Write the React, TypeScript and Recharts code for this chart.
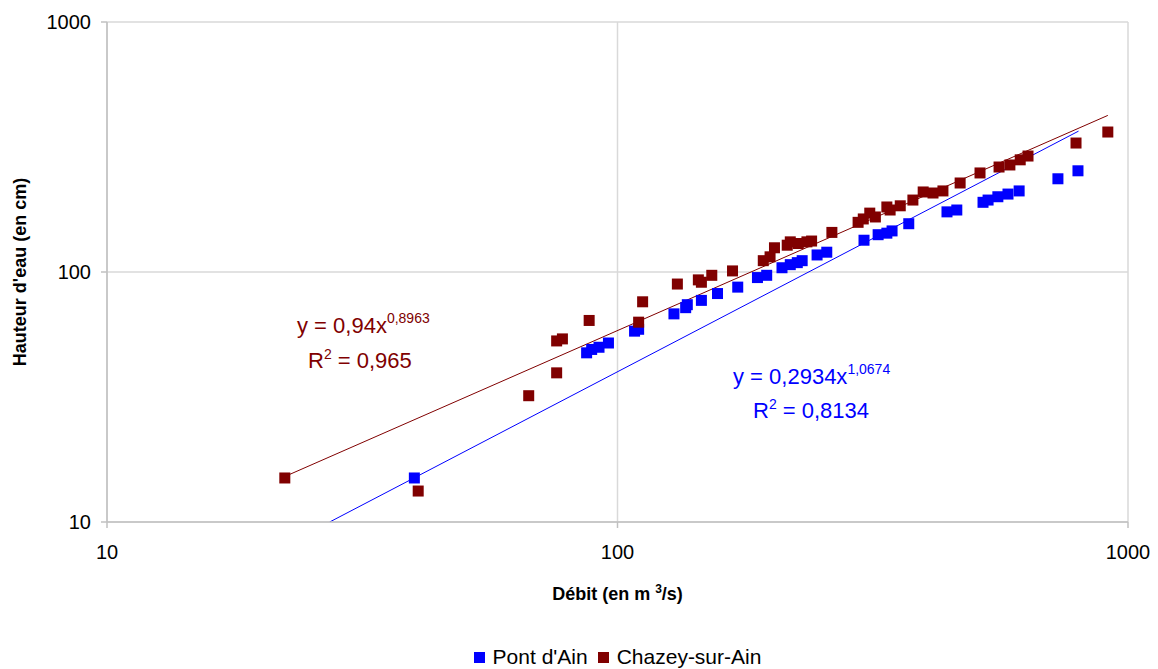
import React from 'react';
import {
  ComposedChart,
  Scatter,
  Line,
  XAxis,
  YAxis,
  CartesianGrid,
} from 'recharts';

const BLUE = '#0000ff';
const BROWN = '#800000';
const FONT = '"Liberation Sans", Arial, sans-serif';

// Pont d'Ain : débit (m3/s) / hauteur (cm)
const pontDebit = [40, 87, 89, 92, 96, 108, 110, 129, 136, 137, 146, 157, 172, 188, 196, 210, 218, 225, 230, 246, 257, 304, 324, 337, 345, 372, 442, 462, 520, 532, 556, 582, 612, 729, 798];
const pontHauteur = [15, 47.5, 49, 50, 52, 58, 59, 68, 72, 74, 77, 82, 87, 95, 97, 104, 107, 109, 111, 117, 120, 134, 141, 143, 146, 156, 174, 177, 190, 194, 200, 205, 211, 236, 254];

// Chazey-sur-Ain
const chazeyDebit = [22.3, 40.7, 67, 76, 76, 78, 88, 110, 112, 131, 144, 146, 153, 168, 193, 199, 203, 215, 218, 226, 235, 240, 263, 296, 303, 312, 320, 337, 342, 358, 379, 397, 415, 434, 469, 513, 559, 587, 615, 637, 791, 913];
const chazeyHauteur = [15, 13.3, 32, 39.5, 53, 54, 64, 63, 76, 89.5, 93, 91, 97, 101, 111, 115, 125, 128, 132, 130, 132, 133, 144, 158, 163, 172, 166, 182, 177, 184, 194, 209, 207, 211, 227, 249, 263, 268, 281, 291, 328, 363];

// courbes de tendance (puissance), extrémités
const pontTrendDebit = [27.3, 800];
const pontTrendHauteur = [10, 366];
const chazeyTrendDebit = [22.3, 913];
const chazeyTrendHauteur = [15.2, 423];

const ticks = [10, 100, 1000];

const toPoints = (xs: number[], ys: number[]) => xs.map((x, i) => ({ x, y: ys[i] }));

const pontData = toPoints(pontDebit, pontHauteur);
const chazeyData = toPoints(chazeyDebit, chazeyHauteur);
const pontTrend = toPoints(pontTrendDebit, pontTrendHauteur);
const chazeyTrend = toPoints(chazeyTrendDebit, chazeyTrendHauteur);

const squareShape = (color: string) => (props: any) => {
  const { cx, cy } = props;
  if (cx == null || cy == null) return <g />;
  return <rect x={cx - 5.5} y={cy - 5.5} width={11} height={11} fill={color} />;
};

const XTitle = (props: any) => {
  const { viewBox } = props;
  const cx = viewBox.x + viewBox.width / 2;
  return (
    <text x={cx} y={600} textAnchor="middle" fontFamily={FONT} fontSize={18} fontWeight="bold" fill="#000">
      Débit (en m <tspan dy={-7} fontSize={12}>3</tspan><tspan dy={7}>/s)</tspan>
    </text>
  );
};

const YTitle = (props: any) => {
  const { viewBox } = props;
  const cy = viewBox.y + viewBox.height / 2;
  return (
    <text
      x={26}
      y={cy}
      transform={`rotate(-90, 26, ${cy})`}
      textAnchor="middle"
      fontFamily={FONT}
      fontSize={18}
      fontWeight="bold"
      fill="#000"
    >
      Hauteur d'eau (en cm)
    </text>
  );
};

const Equations = () => (
  <svg width={1158} height={669} style={{ position: 'absolute', left: 0, top: 0, pointerEvents: 'none' }}>
    <g fontFamily={FONT} fontSize={22}>
      <text x={297} y={333} fill={BROWN}>
        y = 0,94x<tspan dy={-10} fontSize={14}>0,8963</tspan>
      </text>
      <text x={308} y={368} fill={BROWN}>
        R<tspan dy={-9} fontSize={14}>2</tspan><tspan dy={9}> = 0,965</tspan>
      </text>
      <text x={733} y={384} fill={BLUE}>
        y = 0,2934x<tspan dy={-10} fontSize={14}>1,0674</tspan>
      </text>
      <text x={753} y={418} fill={BLUE}>
        R<tspan dy={-9} fontSize={14}>2</tspan><tspan dy={9}> = 0,8134</tspan>
      </text>
    </g>
  </svg>
);

const LegendBox = () => (
  <div
    style={{
      position: 'absolute',
      left: 0,
      top: 645,
      width: 1235,
      display: 'flex',
      justifyContent: 'center',
      alignItems: 'center',
      fontFamily: FONT,
      fontSize: 21,
      color: '#000',
    }}
  >
    <span style={{ width: 11, height: 11, background: BLUE, display: 'inline-block', marginRight: 8 }} />
    <span style={{ marginRight: 10 }}>Pont d'Ain</span>
    <span style={{ width: 11, height: 11, background: BROWN, display: 'inline-block', marginRight: 8 }} />
    <span>Chazey-sur-Ain</span>
  </div>
);

export default function App() {
  return (
    <div style={{ position: 'absolute', left: 0, top: 0, width: 1158, height: 669, background: '#fff', overflow: 'hidden' }}>
      <ComposedChart width={1158} height={669} margin={{ top: 22, right: 30, bottom: 107, left: 27 }}>
        <CartesianGrid stroke="#d9d9d9" strokeWidth={1.5} />
        <XAxis
          type="number"
          dataKey="x"
          scale="log"
          domain={[10, 1000]}
          ticks={ticks}
          allowDataOverflow
          height={40}
          stroke="#c0c0c0"
          strokeWidth={1.5}
          tickSize={6}
          tickMargin={17}
          tick={{ fill: '#000', fontSize: 20, fontFamily: FONT }}
          label={<XTitle />}
        />
        <YAxis
          type="number"
          dataKey="y"
          scale="log"
          domain={[10, 1000]}
          ticks={ticks}
          allowDataOverflow
          width={80}
          stroke="#c0c0c0"
          strokeWidth={1.5}
          tickSize={6}
          tickMargin={10}
          tick={{ fill: '#000', fontSize: 20, fontFamily: FONT }}
          label={<YTitle />}
        />
        <Line data={chazeyTrend} dataKey="y" stroke={BROWN} strokeWidth={1} dot={false} isAnimationActive={false} legendType="none" />
        <Line data={pontTrend} dataKey="y" stroke={BLUE} strokeWidth={1} dot={false} isAnimationActive={false} legendType="none" />
        <Scatter name="Pont d'Ain" data={pontData} fill={BLUE} shape={squareShape(BLUE)} isAnimationActive={false} />
        <Scatter name="Chazey-sur-Ain" data={chazeyData} fill={BROWN} shape={squareShape(BROWN)} isAnimationActive={false} />
      </ComposedChart>
      <Equations />
      <LegendBox />
    </div>
  );
}
